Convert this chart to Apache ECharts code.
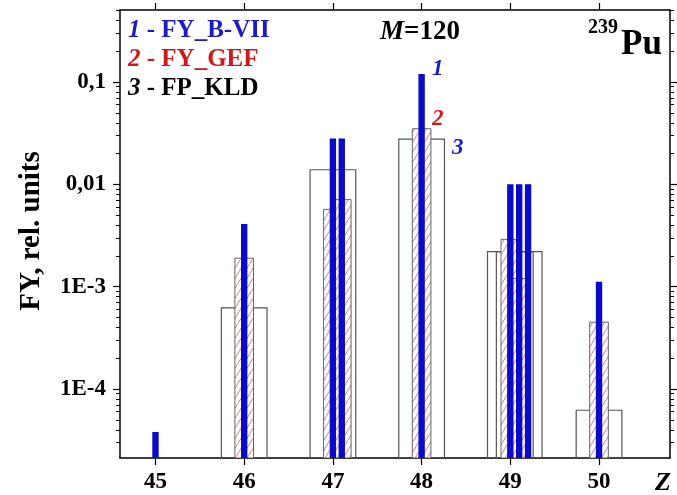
<!DOCTYPE html>
<html><head><meta charset="utf-8">
<script src="https://cdn.jsdelivr.net/npm/echarts@6/dist/echarts.min.js"></script>
<style>html,body{margin:0;padding:0;background:#fff}#c{width:677px;height:495px}</style>
</head><body><div id="c"></div>
<script>
// ---- data ----
const zTicks = [45, 46, 47, 48, 49, 50];
const bviiZ  = [45, 46, 47.0, 47.1, 48, 49.0, 49.1, 49.2, 50];
const bviiFY = [3.8e-5, 4.1e-3, 0.028, 0.028, 0.12, 0.010, 0.010, 0.010, 1.12e-3];
const gefZ   = [46, 47.0, 47.1, 48, 49.0, 49.1, 50];
const gefFY  = [1.9e-3, 5.7e-3, 7.1e-3, 0.035, 2.9e-3, 1.2e-3, 4.5e-4];
const kldZ   = [46, 47, 48, 49.0, 49.1, 50];
const kldFY  = [6.2e-4, 0.0139, 0.0277, 2.2e-3, 2.2e-3, 6.2e-5];
const yTickValues = [1e-4, 1e-3, 0.01, 0.1];
const yTickLabels = ['1E-4', '1E-3', '0,01', '0,1'];

// ---- axis ranges (log10 space) ----
const xMin = 44.6, xMax = 50.8;
const yMinLog = -4.674, yMaxLog = -0.296;
const lg = v => Math.log10(v);

const majorY = yTickValues.map(lg);
const minorY = [];
for (let e = -5; e <= 0; e++) for (let k = 2; k <= 9; k++) {
  const l = lg(k * Math.pow(10, e));
  if (l > yMinLog && l < yMaxLog) minorY.push(l);
}
const labelMap = {};
yTickValues.forEach((v, i) => { labelMap[lg(v).toFixed(3)] = yTickLabels[i]; });

// hatch pattern
const hc = document.createElement('canvas');
hc.width = 6; hc.height = 10;
const hx = hc.getContext('2d');
hx.fillStyle = '#fff'; hx.fillRect(0, 0, 6, 10);
hx.strokeStyle = 'rgba(200,120,120,0.9)'; hx.lineWidth = 1;
hx.beginPath();
hx.moveTo(-6, 10); hx.lineTo(0, 0);
hx.moveTo(0, 10); hx.lineTo(6, 0);
hx.moveTo(6, 10); hx.lineTo(12, 0);
hx.stroke();

function boxSeries(name, zs, vs, widthZ, style, z) {
  return {
    type: 'custom', name: name, z: z,
    coordinateSystem: 'cartesian2d', xAxisIndex: 0, yAxisIndex: 0,
    clip: true,
    data: zs.map((x, i) => [x, lg(vs[i])]),
    encode: { x: 0, y: 1 },
    renderItem: function (params, api) {
      const x = api.value(0), v = api.value(1);
      const p1 = api.coord([x - widthZ / 2, v]);
      const p2 = api.coord([x + widthZ / 2, yMinLog]);
      return {
        type: 'rect',
        shape: { x: p1[0], y: p1[1], width: p2[0] - p1[0], height: p2[1] - p1[1] },
        style: style
      };
    }
  };
}
// empty helper series so that the frame/minor-tick axes hold data
function holder(xi, yi) {
  return { type: 'custom', coordinateSystem: 'cartesian2d', xAxisIndex: xi, yAxisIndex: yi, silent: true,
    data: kldZ.map((x, i) => [x, lg(kldFY[i])]), encode: { x: 0, y: 1 },
    renderItem: function () { return { type: 'group', children: [] }; } };
}

const serif = '"Liberation Serif", "DejaVu Serif", serif';
const axisLineStyle = { color: '#000', width: 1.5 };
const hiddenLine = { show: true, lineStyle: { color: 'rgba(0,0,0,0)', width: 0 } };

const chart = echarts.init(document.getElementById('c'), null, { renderer: 'canvas' });
chart.setOption({
  backgroundColor: '#fff',
  animation: false,
  grid: { left: 120, right: 7, top: 10, bottom: 37 },
  xAxis: [
    { type: 'value', position: 'bottom', min: xMin, max: xMax,
      axisLine: { show: true, lineStyle: axisLineStyle },
      axisTick: { show: true, customValues: zTicks, length: 7, lineStyle: { color: '#000', width: 1.2 } },
      axisLabel: { customValues: zTicks, margin: 13, fontSize: 23, fontWeight: 'bold', fontFamily: serif, color: '#000' },
      splitLine: { show: false } },
    { type: 'value', position: 'top', min: xMin, max: xMax,
      axisLine: { show: true, lineStyle: axisLineStyle },
      axisTick: { show: true, customValues: zTicks, length: 7, lineStyle: { color: '#000', width: 1.2 } },
      axisLabel: { show: false }, splitLine: { show: false } }
  ],
  yAxis: [
    { type: 'value', position: 'left', min: yMinLog, max: yMaxLog,
      axisLine: { show: true, lineStyle: axisLineStyle },
      axisTick: { show: true, customValues: majorY, length: 7, lineStyle: { color: '#000', width: 1.2 } },
      axisLabel: { customValues: majorY, margin: 14, fontSize: 23, fontWeight: 'bold', fontFamily: serif, color: '#000',
        formatter: v => labelMap[Number(v).toFixed(3)] || '' },
      splitLine: { show: false } },
    { type: 'value', position: 'left', min: yMinLog, max: yMaxLog,
      axisLine: hiddenLine,
      axisTick: { show: true, customValues: minorY, length: 4, lineStyle: { color: '#000', width: 1 } },
      axisLabel: { show: false }, splitLine: { show: false } },
    { type: 'value', position: 'right', min: yMinLog, max: yMaxLog,
      axisLine: { show: true, lineStyle: axisLineStyle },
      axisTick: { show: true, customValues: majorY, length: 7, lineStyle: { color: '#000', width: 1.2 } },
      axisLabel: { show: false }, splitLine: { show: false } },
    { type: 'value', position: 'right', min: yMinLog, max: yMaxLog,
      axisLine: hiddenLine,
      axisTick: { show: true, customValues: minorY, length: 4, lineStyle: { color: '#000', width: 1 } },
      axisLabel: { show: false }, splitLine: { show: false } }
  ],
  series: [
    boxSeries('FP_KLD', kldZ, kldFY, 0.515, { fill: 'none', stroke: '#555', lineWidth: 1.2 }, 2),
    boxSeries('FY_GEF', gefZ, gefFY, 0.21, { fill: { image: hc, repeat: 'repeat' }, stroke: '#666', lineWidth: 1 }, 3),
    boxSeries('FY_B-VII', bviiZ, bviiFY, 0.072, { fill: '#0a0ac8' }, 4),
    holder(1, 1), holder(1, 2), holder(1, 3)
  ],
  graphic: [
    { type: 'text', left: 128, top: 18, style: { rich: {
        i: { fontStyle: 'italic', fontWeight: 'bold', fontSize: 25, fontFamily: serif, fill: '#1c1cc4' },
        b: { fontWeight: 'bold', fontSize: 25, fontFamily: serif, fill: '#1c1cc4' } },
        text: '{i|1}{b| - FY_B-VII}' } },
    { type: 'text', left: 128, top: 47, style: { rich: {
        i: { fontStyle: 'italic', fontWeight: 'bold', fontSize: 25, fontFamily: serif, fill: '#d01818' },
        b: { fontWeight: 'bold', fontSize: 25, fontFamily: serif, fill: '#d01818' } },
        text: '{i|2}{b| - FY_GEF}' } },
    { type: 'text', left: 128, top: 76, style: { rich: {
        i: { fontStyle: 'italic', fontWeight: 'bold', fontSize: 25, fontFamily: serif, fill: '#000' },
        b: { fontWeight: 'bold', fontSize: 25, fontFamily: serif, fill: '#000' } },
        text: '{i|3}{b| - FP_KLD}' } },
    { type: 'text', left: 380, top: 19, style: { rich: {
        i: { fontStyle: 'italic', fontWeight: 'bold', fontSize: 27, fontFamily: serif, fill: '#000' },
        b: { fontWeight: 'bold', fontSize: 27, fontFamily: serif, fill: '#000' } },
        text: '{i|M}{b|=120}' } },
    { type: 'text', left: 588, top: 18, style: { text: '239', fontWeight: 'bold', fontSize: 20, fontFamily: serif, fill: '#000' } },
    { type: 'text', left: 621, top: 27, style: { text: 'Pu', fontWeight: 'bold', fontSize: 35, fontFamily: serif, fill: '#000' } },
    { type: 'text', left: 432, top: 58, style: { text: '1', fontStyle: 'italic', fontWeight: 'bold', fontSize: 23, fontFamily: serif, fill: '#1c1cc4' } },
    { type: 'text', left: 432, top: 108, style: { text: '2', fontStyle: 'italic', fontWeight: 'bold', fontSize: 23, fontFamily: serif, fill: '#d01818' } },
    { type: 'text', left: 452, top: 137, style: { text: '3', fontStyle: 'italic', fontWeight: 'bold', fontSize: 23, fontFamily: serif, fill: '#1c1cc4' } },
    { type: 'text', left: 655, top: 470, style: { text: 'Z', fontStyle: 'italic', fontWeight: 'bold', fontSize: 26, fontFamily: serif, fill: '#000' } },
    { type: 'text', x: 32, y: 231, rotation: Math.PI / 2,
      style: { text: 'FY, rel. units', fontWeight: 'bold', fontSize: 29, fontFamily: serif, fill: '#000', align: 'center', verticalAlign: 'middle' } }
  ]
});
</script>
</body></html>
